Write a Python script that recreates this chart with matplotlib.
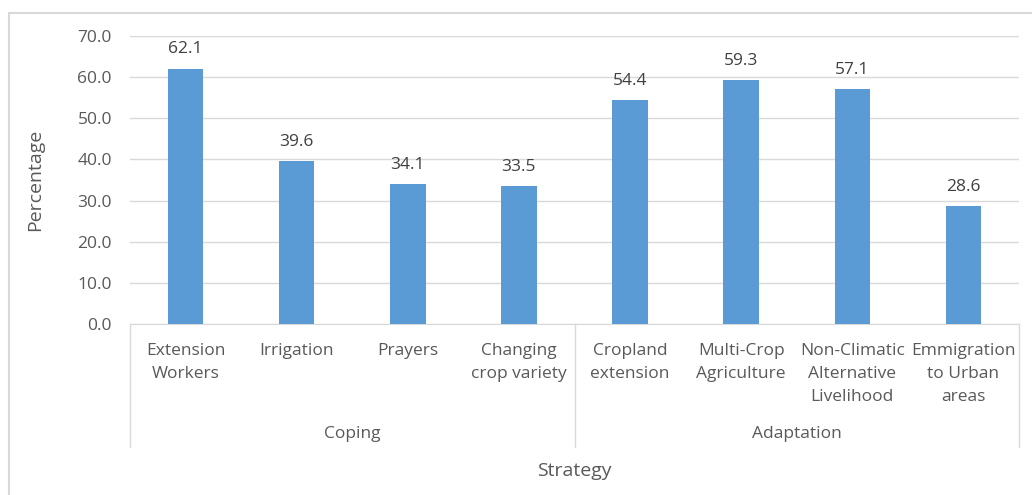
import matplotlib.pyplot as plt
from matplotlib.patches import Rectangle
from matplotlib.transforms import blended_transform_factory

# Strategy percentages, grouped into coping vs adaptation
strategies = ['Extension\nWorkers', 'Irrigation', 'Prayers', 'Changing\ncrop variety',
              'Cropland\nextension', 'Multi-Crop\nAgriculture',
              'Non-Climatic\nAlternative\nLivelihood', 'Emmigration\nto Urban\nareas']
percentages = [62.1, 39.6, 34.1, 33.5, 54.4, 59.3, 57.1, 28.6]
groups = ['Coping', 'Adaptation']
group_sizes = [4, 4]

plt.rcParams['font.family'] = ['Open Sans', 'DejaVu Sans']
txt = '#595959'
grid = '#D9D9D9'
fs = 12.5

fig = plt.figure(figsize=(10.32, 4.95), dpi=100)
ax = fig.add_axes([130 / 1032, 1 - 324 / 495, (1019 - 130) / 1032, 288 / 495])

x = list(range(len(percentages)))
ax.bar(x, percentages, width=0.32, color='#5B9BD5', zorder=3)
for xi, v in zip(x, percentages):
    ax.annotate(f'{v:.1f}', (xi, v), xytext=(0, 8), textcoords='offset points',
                ha='center', va='bottom', fontsize=fs, color='#404040')

ax.set_xlim(-0.5, len(percentages) - 0.5)
ax.set_ylim(0, 70)
ax.set_yticks(range(0, 71, 10))
ax.set_yticklabels([f'{t:.1f}' for t in range(0, 71, 10)], fontsize=fs, color=txt)
ax.tick_params(axis='y', length=0, pad=13)
ax.set_xticks([])
ax.grid(axis='y', color=grid, lw=1, zorder=0)
for s in ['top', 'right', 'left']:
    ax.spines[s].set_visible(False)
ax.spines['bottom'].set_color(grid)

# two-level category axis
tr = blended_transform_factory(ax.transData, ax.transAxes)
for xi, name in zip(x, strategies):
    ax.text(xi, -0.066, name, transform=tr, ha='center', va='top',
            fontsize=fs, color=txt, linespacing=1.58)

start = 0
edges = [-0.5]
for g, n in zip(groups, group_sizes):
    mid = start + (n - 1) / 2
    ax.text(mid, -0.382, g, transform=tr, ha='center', va='center', fontsize=fs, color=txt)
    start += n
    edges.append(start - 0.5)
for e in edges:
    ax.plot([e, e], [0, -0.427], transform=tr, color=grid, lw=1, clip_on=False)

fig.text((130 + 1019) / 2 / 1032, 1 - 471 / 495, 'Strategy', ha='center', va='center',
         fontsize=14, color=txt)
fig.text(35 / 1032, 1 - 180 / 495, 'Percentage', ha='center', va='center',
         rotation=90, fontsize=14, color=txt)

# chart frame
fig.patches.append(Rectangle((8.5 / 1032, -0.1), 1.2, 1 - 13 / 495 + 0.1,
                             transform=fig.transFigure, fill=False,
                             edgecolor=grid, lw=1.5))

fig.savefig('out.png', dpi=100)
